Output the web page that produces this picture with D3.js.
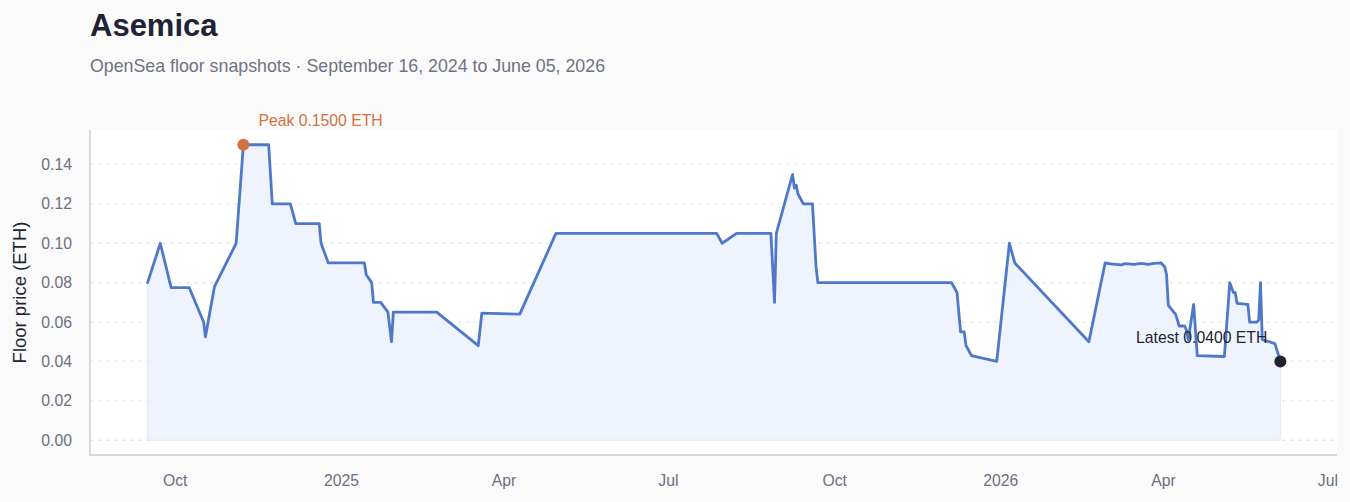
<!DOCTYPE html>
<html>
<head>
<meta charset="utf-8">
<script src="https://cdn.jsdelivr.net/npm/d3@7"></script>
<style>
  html, body { margin: 0; padding: 0; background: #fafafa; }
  svg { display: block; font-family: "Liberation Sans", Arial, Helvetica, sans-serif; }
</style>
</head>
<body>
<svg id="chart" width="1350" height="502"></svg>
<script>
// ---- data ----
const dates = [
  "2024-09-16","2024-09-23","2024-09-29","2024-10-09","2024-10-17","2024-10-18","2024-10-23",
  "2024-11-04","2024-11-08","2024-11-22","2024-11-24","2024-12-04","2024-12-07","2024-12-20",
  "2024-12-21","2024-12-25","2025-01-14","2025-01-15","2025-01-18","2025-01-19","2025-01-23",
  "2025-01-27","2025-01-29","2025-01-30","2025-02-23","2025-03-18","2025-03-20","2025-04-10",
  "2025-04-30","2025-07-28","2025-07-31","2025-08-08","2025-08-27","2025-08-29","2025-08-30",
  "2025-09-08","2025-09-09","2025-09-10","2025-09-11","2025-09-14","2025-09-19","2025-09-21",
  "2025-09-22","2025-12-05","2025-12-08","2025-12-10","2025-12-12","2025-12-13","2025-12-16",
  "2025-12-30","2026-01-06","2026-01-09","2026-02-19","2026-02-28","2026-03-03","2026-03-09",
  "2026-03-11","2026-03-16","2026-03-20","2026-03-24","2026-03-27","2026-03-31","2026-04-02",
  "2026-04-03","2026-04-04","2026-04-07","2026-04-08","2026-04-10","2026-04-13","2026-04-14",
  "2026-04-15","2026-04-18","2026-04-20","2026-05-05","2026-05-08","2026-05-10","2026-05-11",
  "2026-05-12","2026-05-18","2026-05-19","2026-05-23","2026-05-24","2026-05-25","2026-05-26",
  "2026-05-30","2026-06-02","2026-06-05"
];
const floorPrices = [
  0.080, 0.100, 0.0775, 0.0775, 0.060, 0.0525, 0.078,
  0.100, 0.150, 0.150, 0.120, 0.120, 0.110, 0.110,
  0.100, 0.090, 0.090, 0.084, 0.080, 0.070, 0.070,
  0.065, 0.050, 0.065, 0.065, 0.048, 0.0645, 0.064,
  0.105, 0.105, 0.100, 0.105, 0.105, 0.070, 0.105,
  0.135, 0.128, 0.1295, 0.125, 0.120, 0.120, 0.088,
  0.080, 0.080, 0.075, 0.055, 0.055, 0.048, 0.043,
  0.040, 0.100, 0.090, 0.050, 0.090, 0.0895, 0.089,
  0.0897, 0.0893, 0.0898, 0.0893, 0.0898, 0.090, 0.088,
  0.084, 0.0685, 0.065, 0.064, 0.058, 0.058, 0.056,
  0.051, 0.069, 0.043, 0.0425, 0.080, 0.075, 0.075,
  0.0695, 0.069, 0.060, 0.060, 0.061, 0.080, 0.051,
  0.050, 0.049, 0.040
];
const yTickValues = [0, 0.02, 0.04, 0.06, 0.08, 0.10, 0.12, 0.14];
const titleText = "Asemica";
const subtitleText = "OpenSea floor snapshots \u00b7 September 16, 2024 to June 05, 2026";
const yAxisLabel = "Floor price (ETH)";

// ---- build ----
const parse = d3.utcParse("%Y-%m-%d");
const data = dates.map((d, i) => ({ date: parse(d), value: floorPrices[i] }));

const svg = d3.select("#chart");
const plot = { left: 90, right: 1337, top: 130, bottom: 455 };

const ext = d3.extent(data, d => d.date);
const span = ext[1] - ext[0];
const x = d3.scaleUtc()
  .domain([new Date(+ext[0] - span * 0.05), new Date(+ext[1] + span * 0.05)])
  .range([plot.left + 1, plot.right]);

const maxV = d3.max(data, d => d.value);
const y = d3.scaleLinear()
  .domain([-maxV * 0.05, maxV * 1.05])
  .range([plot.bottom, plot.top]);

// title
svg.append("text").attr("x", 90).attr("y", 36)
  .attr("font-size", 31).attr("font-weight", 700).attr("fill", "#1f2333")
  .text(titleText);
svg.append("text").attr("x", 90).attr("y", 72)
  .attr("font-size", 17.8).attr("fill", "#6e7385")
  .text(subtitleText);

// plot background
svg.append("rect")
  .attr("x", plot.left).attr("y", plot.top)
  .attr("width", plot.right - plot.left).attr("height", plot.bottom - plot.top)
  .attr("fill", "#ffffff");

// gridlines
svg.append("g").selectAll("line").data(yTickValues).join("line")
  .attr("x1", plot.left).attr("x2", plot.right)
  .attr("y1", d => y(d)).attr("y2", d => y(d))
  .attr("stroke", "#e4e6ec").attr("stroke-width", 1.3)
  .attr("stroke-dasharray", "3,5");

// area + line
const area = d3.area().x(d => x(d.date)).y0(y(0)).y1(d => y(d.value));
svg.append("path").datum(data)
  .attr("d", area)
  .attr("fill", "#eef3fd")
  .attr("stroke", "#dfe7f8").attr("stroke-width", 1);

const line = d3.line().x(d => x(d.date)).y(d => y(d.value));
svg.append("path").datum(data)
  .attr("d", line)
  .attr("fill", "none")
  .attr("stroke", "#4f78c8").attr("stroke-width", 2.8)
  .attr("stroke-linejoin", "round").attr("stroke-linecap", "round");

// axes
const yAxis = d3.axisLeft(y).tickValues(yTickValues).tickFormat(d3.format(".2f")).tickSize(0).tickPadding(18);
const gy = svg.append("g").attr("transform", `translate(${plot.left},0)`).call(yAxis);
gy.select(".domain").remove();
gy.selectAll("text").attr("font-size", 15.75).attr("fill", "#6b7083")
  .attr("font-family", "'Liberation Sans', Arial, sans-serif");

const fmtTick = d => d.getUTCMonth() === 0 ? d3.utcFormat("%Y")(d) : d3.utcFormat("%b")(d);
const xAxis = d3.axisBottom(x).ticks(d3.utcMonth.every(3)).tickFormat(fmtTick).tickSize(0).tickPadding(20);
const gx = svg.append("g").attr("transform", `translate(0,${plot.bottom})`).call(xAxis);
gx.select(".domain").remove();
gx.selectAll("text").attr("font-size", 15.75).attr("fill", "#6b7083")
  .attr("font-family", "'Liberation Sans', Arial, sans-serif");

svg.append("line").attr("x1", plot.left).attr("x2", plot.left)
  .attr("y1", plot.top).attr("y2", plot.bottom + 1)
  .attr("stroke", "#d6d8e6").attr("stroke-width", 2);
svg.append("line").attr("x1", plot.left - 1).attr("x2", plot.right)
  .attr("y1", plot.bottom).attr("y2", plot.bottom)
  .attr("stroke", "#d6d8e6").attr("stroke-width", 2);

// y label
svg.append("text")
  .attr("transform", `translate(26,${(plot.top + plot.bottom) / 2}) rotate(-90)`)
  .attr("text-anchor", "middle").attr("font-size", 18.5).attr("fill", "#22252f")
  .text(yAxisLabel);

// peak annotation
const peak = data.reduce((a, b) => (b.value > a.value ? b : a));
svg.append("circle").attr("cx", x(peak.date)).attr("cy", y(peak.value)).attr("r", 6)
  .attr("fill", "#d2703f");
svg.append("text").attr("x", x(peak.date) + 15).attr("y", y(peak.value) - 19)
  .attr("font-size", 15.75).attr("fill", "#d2703f")
  .text(`Peak ${peak.value.toFixed(4)} ETH`);

// latest annotation
const last = data[data.length - 1];
svg.append("circle").attr("cx", x(last.date)).attr("cy", y(last.value)).attr("r", 6)
  .attr("fill", "#1f2333");
svg.append("text").attr("x", x(last.date) - 13).attr("y", y(last.value) - 18)
  .attr("text-anchor", "end").attr("font-size", 15.75).attr("fill", "#22252f")
  .text(`Latest ${last.value.toFixed(4)} ETH`);
</script>
</body>
</html>
